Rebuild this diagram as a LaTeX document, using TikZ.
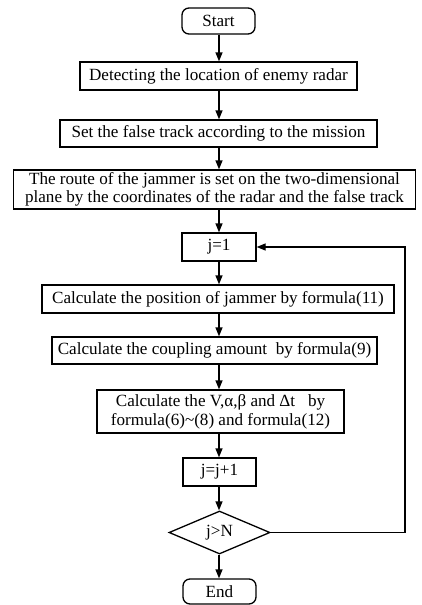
\documentclass[tikz,border=0pt]{standalone}
\usepackage{fontspec}
\setmainfont{Liberation Serif}
\usetikzlibrary{shapes.geometric,arrows.meta}

\tikzset{
  base/.style={draw=black, line width=1.3pt, inner sep=0pt, align=center,
    font=\fontsize{17.1}{18.6}\selectfont},
  procbox/.style={base, rectangle},
  termbox/.style={base, rectangle, rounded corners=7pt},
  decbox/.style={base, diamond, aspect=2.3},
  arr/.style={line width=1.3pt, -{Triangle[length=9pt,width=7pt]}}
}

\begin{document}
\begin{tikzpicture}[x=1pt,y=-1pt]
  \useasboundingbox (0,0) rectangle (421,605);

  % steps of the procedure, top to bottom
  \node[termbox, minimum width=73pt, minimum height=26pt] (start) at (218.5,21) {Start};
  \node[procbox, minimum width=277pt, minimum height=28pt] (detect) at (218.5,76)
    {Detecting the location of enemy radar};
  \node[procbox, minimum width=317pt, minimum height=27pt] (track) at (218.5,133.5)
    {Set the false track according to the mission};
  \node[procbox, minimum width=402pt, minimum height=39pt] (route) at (214.5,189.5)
    {The route of the jammer is set on the two-dimensional\\
     plane by the coordinates of the radar and the false track};
  \node[procbox, minimum width=74pt, minimum height=28pt] (jinit) at (219,247) {j=1};
  \node[procbox, minimum width=352pt, minimum height=28pt] (pos) at (218,299)
    {Calculate the position of jammer by formula(11)};
  \node[procbox, minimum width=325pt, minimum height=27pt] (coup) at (214.5,350.5)
    {Calculate the coupling amount\ \ by formula(9)};
  \node[procbox, minimum width=247pt, minimum height=43pt] (calc) at (220.5,411.5)
    {Calculate the V,α,β and Δt\ \ \ by\\
     formula(6)\textasciitilde(8) and formula(12)};
  \node[procbox, minimum width=73pt, minimum height=28pt] (jinc) at (219.5,472) {j=j+1};
  \node[decbox, minimum width=101pt, minimum height=43pt] (test) at (219.5,532.5) {j>N};
  \node[termbox, minimum width=73pt, minimum height=25pt] (stop) at (219.5,591.5) {End};

  % main flow
  \draw[arr] (start.south -| jinit) -- (detect.north -| jinit);
  \draw[arr] (detect.south -| jinit) -- (track.north -| jinit);
  \draw[arr] (track.south -| jinit) -- (route.north -| jinit);
  \draw[arr] (route.south -| jinit) -- (jinit.north);
  \draw[arr] (jinit.south) -- (pos.north -| jinit);
  \draw[arr] (pos.south -| jinit) -- (coup.north -| jinit);
  \draw[arr] (coup.south -| jinit) -- (calc.north -| jinit);
  \draw[arr] (calc.south -| jinit) -- (jinc.north -| jinit);
  \draw[arr] (jinc.south -| jinit) -- (test.north -| jinit);
  \draw[arr] (test.south -| jinit) -- (stop.north -| jinit);

  % loop back while j <= N
  \coordinate (loopx) at (405,0);
  \draw[arr] (test.east) -- (test.east -| loopx) -- (jinit.east -| loopx) -- (jinit.east);
\end{tikzpicture}
\end{document}
